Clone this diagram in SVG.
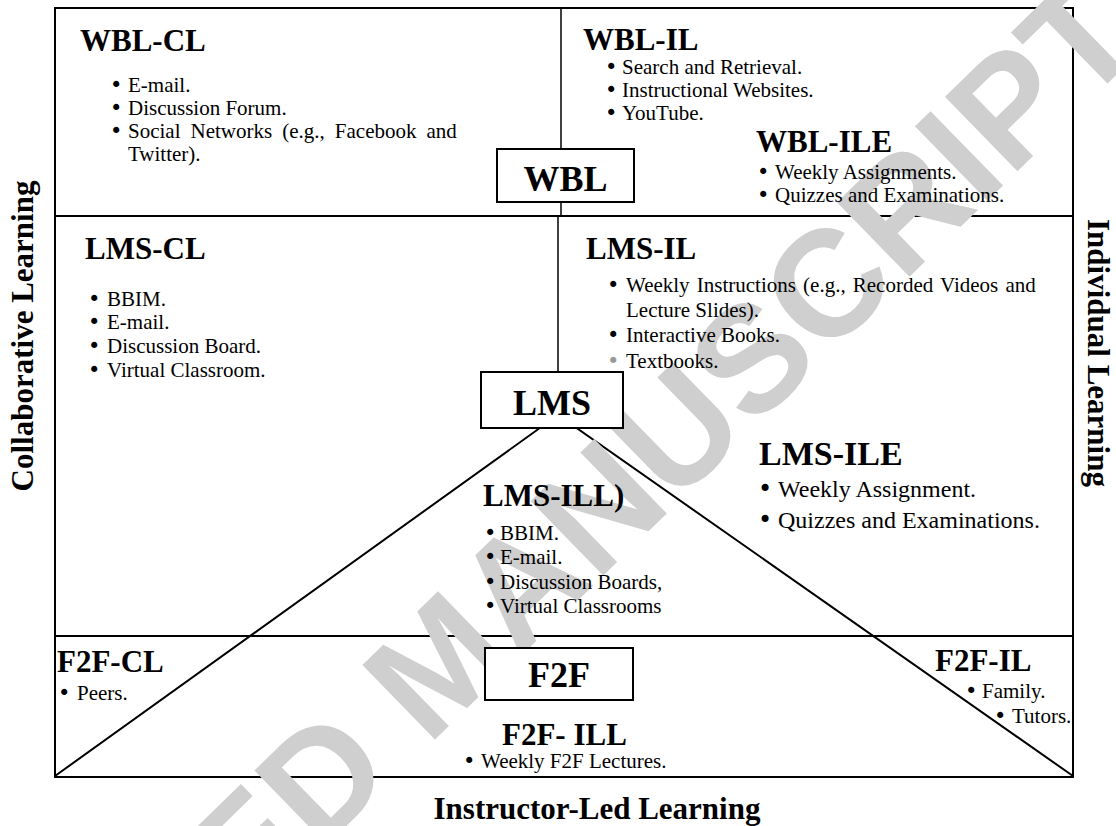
<svg xmlns="http://www.w3.org/2000/svg" width="1116" height="826" viewBox="0 0 1116 826">
<style>
text{font-family:"Liberation Serif","Times New Roman",serif;fill:#000}
.h{font-size:31px;font-weight:bold}
.hb{font-size:36px;font-weight:bold}
.t{font-size:21px}
.b{font-family:"DejaVu Sans",sans-serif}
.t2{font-size:24px}
.ax{font-size:31px;font-weight:bold}
.ln{stroke:#000;stroke-width:2;fill:none}
.box{stroke:#000;stroke-width:2;fill:#fff}
.wm{font-family:"Liberation Sans",Arial,sans-serif;font-weight:bold;font-size:151px;fill:#cfcfcf}
</style>
<rect width="1116" height="826" fill="#fff"/>
<g id="connectors">
<rect class="ln" x="55" y="8" width="1018" height="769"/>
<line class="ln" x1="55" y1="216" x2="1073" y2="216"/>
<line class="ln" x1="55" y1="636" x2="1073" y2="636"/>
<line class="ln" x1="561" y1="8" x2="561" y2="216" style="stroke-width:1.5"/>
<line class="ln" x1="558" y1="216" x2="558" y2="372" style="stroke-width:1.5"/>
<polyline class="ln" points="55,776 558,415 1073,776"/>
</g>
<g id="watermark">
<text class="wm" transform="translate(698,483) rotate(-44.3)" text-anchor="middle">ED MANUSCRIPT</text>
</g>
<g id="wbl-cl">
<text class="h" x="80" y="51">WBL-CL</text>
<text class="t" x="110" y="92"><tspan class="b">•</tspan><tspan x="128">E-mail.</tspan></text>
<text class="t" x="110" y="115"><tspan class="b">•</tspan><tspan x="128">Discussion Forum.</tspan></text>
<text class="t" x="110" y="138"><tspan class="b">•</tspan><tspan x="128" word-spacing="4.8">Social Networks (e.g., Facebook and</tspan></text>
<text class="t" x="128" y="161">Twitter).</text>
</g>
<g id="wbl-il">
<text class="h" x="583" y="50">WBL-IL</text>
<text class="t" x="605" y="74"><tspan class="b">•</tspan><tspan x="622">Search and Retrieval.</tspan></text>
<text class="t" x="605" y="97"><tspan class="b">•</tspan><tspan x="622">Instructional Websites.</tspan></text>
<text class="t" x="605" y="120"><tspan class="b">•</tspan><tspan x="622">YouTube.</tspan></text>
</g>
<g id="wbl-ile">
<text class="h" x="756" y="152">WBL-ILE</text>
<text class="t" x="757" y="179"><tspan class="b">•</tspan><tspan x="775">Weekly Assignments.</tspan></text>
<text class="t" x="757" y="202"><tspan class="b">•</tspan><tspan x="775">Quizzes and Examinations.</tspan></text>
</g>
<g id="wbl">
<rect class="box" x="497" y="149" width="137" height="53"/>
<text class="hb" x="565.5" y="191" text-anchor="middle">WBL</text>
</g>
<g id="lms-cl">
<text class="h" x="85" y="259">LMS-CL</text>
<text class="t" x="88" y="306"><tspan class="b">•</tspan><tspan x="107">BBIM.</tspan></text>
<text class="t" x="88" y="329"><tspan class="b">•</tspan><tspan x="107">E-mail.</tspan></text>
<text class="t" x="88" y="353"><tspan class="b">•</tspan><tspan x="107">Discussion Board.</tspan></text>
<text class="t" x="88" y="377"><tspan class="b">•</tspan><tspan x="107">Virtual Classroom.</tspan></text>
</g>
<g id="lms-il">
<text class="h" x="586" y="259">LMS-IL</text>
<text class="t" x="607" y="292"><tspan class="b">•</tspan><tspan x="626" word-spacing="1.9">Weekly Instructions (e.g., Recorded Videos and</tspan></text>
<text class="t" x="626" y="317">Lecture Slides).</text>
<text class="t" x="607" y="342"><tspan class="b">•</tspan><tspan x="626">Interactive Books.</tspan></text>
<text class="t" x="607" y="368"><tspan class="b" style="fill:#999">•</tspan><tspan x="626">Textbooks.</tspan></text>
</g>
<g id="lms">
<rect class="box" x="481" y="372" width="142" height="56"/>
<text class="hb" x="552" y="415" text-anchor="middle">LMS</text>
</g>
<g id="lms-ile">
<text class="h" x="759" y="465" style="font-size:34px">LMS-ILE</text>
<text class="t2" x="758" y="497"><tspan class="b">•</tspan><tspan x="778">Weekly Assignment.</tspan></text>
<text class="t2" x="758" y="528"><tspan class="b">•</tspan><tspan x="778">Quizzes and Examinations.</tspan></text>
</g>
<g id="lms-ill">
<text class="h" x="483" y="506">LMS-ILL)</text>
<text class="t" x="484" y="540"><tspan class="b">•</tspan><tspan x="500">BBIM.</tspan></text>
<text class="t" x="484" y="564"><tspan class="b">•</tspan><tspan x="500">E-mail.</tspan></text>
<text class="t" x="484" y="589"><tspan class="b">•</tspan><tspan x="500">Discussion Boards,</tspan></text>
<text class="t" x="484" y="613"><tspan class="b">•</tspan><tspan x="500">Virtual Classrooms</tspan></text>
</g>
<g id="f2f-cl">
<text class="h" x="57" y="672">F2F-CL</text>
<text class="t" x="58" y="700"><tspan class="b">•</tspan><tspan x="77">Peers.</tspan></text>
</g>
<g id="f2f">
<rect class="box" x="485" y="648" width="148" height="52"/>
<text class="hb" x="559" y="687" text-anchor="middle">F2F</text>
</g>
<g id="f2f-il">
<text class="h" x="935" y="671">F2F-IL</text>
<text class="t" x="965" y="698"><tspan class="b">•</tspan><tspan x="982">Family.</tspan></text>
<text class="t" x="994" y="723"><tspan class="b">•</tspan><tspan x="1012">Tutors.</tspan></text>
</g>
<g id="f2f-ill">
<text class="h" x="502" y="745">F2F- ILL</text>
<text class="t" x="463" y="768"><tspan class="b">•</tspan><tspan x="481">Weekly F2F Lectures.</tspan></text>
</g>
<g id="axes">
<text class="ax" transform="translate(33,336) rotate(-90)" text-anchor="middle">Collaborative Learning</text>
<text class="ax" transform="translate(1088,353) rotate(90)" text-anchor="middle">Individual Learning</text>
<text class="ax" x="597" y="819" text-anchor="middle">Instructor-Led Learning</text>
</g>
</svg>
